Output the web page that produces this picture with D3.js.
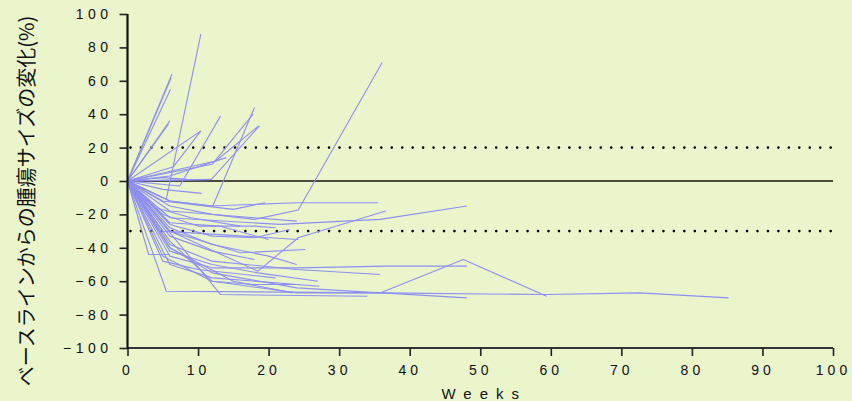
<!DOCTYPE html>
<html>
<head>
<meta charset="utf-8">
<script src="https://cdn.jsdelivr.net/npm/d3@7"></script>
<style>
  html, body { margin: 0; padding: 0; background: #eaf5cb; }
  svg { display: block; }
</style>
</head>
<body>
<svg id="chart" width="852" height="401"></svg>
<script>
// Per-patient assessment times (weeks) and percent change from baseline tumour size
const patientWeeks = [
  [0, 6.3], [0, 6.2], [0, 6.1], [0, 6.0], [0, 5.8],
  [0, 5.5, 10.4], [0, 6.5, 10.4], [0, 10.4], [0, 7.4, 13.2],
  [0, 6, 12.1, 18], [0, 11.9, 18.7], [0, 12, 17.8], [0, 12.5, 18.6],
  [0, 11.9], [0, 5, 10.5], [0, 5, 8.5], [0, 6, 14],
  [0, 6, 12, 24, 35.5],
  [0, 6, 12, 18, 24.2, 36.1],
  [0, 6, 21.6, 35.8, 48.1],
  [0, 6, 18.5, 24.2, 36.6],
  [0, 5.5, 36, 59.4, 72.6, 85.2],
  [0, 6, 12, 24, 35.8, 47.6, 59.4],
  [0, 6, 12, 24, 36.7, 48.1],
  [0, 6, 12, 24, 35.8],
  [0, 6, 12, 27.2],
  [0, 13.2, 34],
  [0, 6, 15, 23.4],
  [0, 6, 12, 24, 36, 48.1],
  [0, 3, 6],
  [0, 5, 24.2],
  [0, 6, 16, 25.2],
  [0, 5, 15, 19.5],
  [0, 6, 18, 24],
  [0, 6, 13, 20],
  [0, 6, 12, 18.5, 27],
  [0, 5, 12, 18, 24.5],
  [0, 5, 10, 21],
  [0, 6, 12, 20, 24],
  [0, 6, 12, 18, 23],
  [0, 5, 10, 18, 21],
  [0, 6, 12, 18],
  [0, 4, 9, 16]
];
const patientChange = [
  [0, 64], [0, 62], [0, 55], [0, 36], [0, 34],
  [0, -11, 88], [0, 8.5, 30], [0, 30], [0, -3, 39],
  [0, -12, -15, 44], [0, 1, 33], [0, 10, 40], [0, 12, 33],
  [0, 1], [0, -5, -7.4], [0, 2, 1], [0, 3, 14],
  [0, -12, -15, -13, -13],
  [0, -15, -20, -23, -17.4, 71],
  [0, -22, -26, -23, -15],
  [0, -30, -54, -34, -18],
  [0, -66, -67, -68, -67, -70],
  [0, -40, -55, -64, -67, -47, -69],
  [0, -45, -52, -52, -51, -51],
  [0, -38, -48, -53, -56],
  [0, -50, -58, -63],
  [0, -68, -69],
  [0, -40, -60, -67],
  [0, -36, -60, -67, -67, -70],
  [0, -44, -44],
  [0, -30, -35],
  [0, -30, -43, -41],
  [0, -12, -17, -13],
  [0, -18, -22, -24],
  [0, -25, -27, -35],
  [0, -42, -50, -55, -60],
  [0, -45, -60, -62, -62],
  [0, -48, -53, -58],
  [0, -28, -38, -45, -50],
  [0, -26, -33, -34, -29],
  [0, -20, -27, -27, -28],
  [0, -33, -42, -47],
  [0, -16, -22, -27]
];
const xTickValues = d3.range(0, 101, 10);
const yTickValues = d3.range(-100, 101, 20);
const referenceLevels = [20, -30];
const xTitle = "Weeks";
const yTitle = "ベースラインからの腫瘍サイズの変化(%)";

const svg = d3.select("#chart");
const plotLeft = 127.5, plotRight = 833, plotTop = 14, plotBottom = 348;

const x = d3.scaleLinear().domain([0, 100]).range([plotLeft, plotRight]);
const y = d3.scaleLinear().domain([-100, 100]).range([plotBottom, plotTop]);

svg.append("rect").attr("width", 852).attr("height", 401).attr("fill", "#eaf5cb");

// dotted threshold lines
svg.selectAll("line.ref").data(referenceLevels).join("line")
  .attr("class", "ref")
  .attr("x1", x(0) + 3).attr("x2", plotRight)
  .attr("y1", d => y(d)).attr("y2", d => y(d))
  .attr("stroke", "#000").attr("stroke-width", 2.6)
  .attr("stroke-linecap", "round")
  .attr("stroke-dasharray", "0,10.45");

// baseline at zero change
svg.append("line")
  .attr("x1", x(0)).attr("x2", plotRight)
  .attr("y1", y(0)).attr("y2", y(0))
  .attr("stroke", "#4a4a40").attr("stroke-width", 2);

// one polyline per patient
const line = d3.line().x(d => x(d[0])).y(d => y(d[1]));
const series = patientWeeks.map((w, i) => w.map((wk, j) => [wk, patientChange[i][j]]));
svg.append("g").selectAll("path").data(series).join("path")
  .attr("d", line)
  .attr("fill", "none")
  .attr("stroke", "#8e8ef3")
  .attr("stroke-width", 1.1)
  .attr("stroke-linejoin", "round");

const tickFont = "'Liberation Sans', Arial, sans-serif";
const ls = 4;

// x axis
const xAxis = svg.append("g").attr("transform", `translate(0,${plotBottom})`)
  .call(d3.axisBottom(x).tickValues(xTickValues).tickSize(8).tickPadding(9).tickFormat(d3.format("d")));
xAxis.select(".domain").attr("stroke", "#333").attr("stroke-width", 2).attr("d", `M${plotLeft},0H${plotRight}`);
xAxis.selectAll(".tick line").attr("stroke", "#222").attr("stroke-width", 1.6);
xAxis.selectAll(".tick text")
  .attr("font-family", tickFont).attr("font-size", 14).attr("fill", "#111")
  .style("letter-spacing", ls + "px");

// y axis
const yAxis = svg.append("g").attr("transform", `translate(${plotLeft},0)`)
  .call(d3.axisLeft(y).tickValues(yTickValues).tickSize(8).tickPadding(10).tickFormat(d3.format("d")));
yAxis.select(".domain").attr("stroke", "#111").attr("stroke-width", 2.2).attr("d", `M0,${plotTop}V${plotBottom + 1}`);
yAxis.selectAll(".tick line").attr("stroke", "#222").attr("stroke-width", 1.6);
yAxis.selectAll(".tick text")
  .attr("font-family", tickFont).attr("font-size", 14).attr("fill", "#111")
  .style("letter-spacing", (ls + 0.5) + "px").attr("dx", ls - 1);

// axis titles
svg.append("text")
  .attr("x", (plotLeft + plotRight) / 2 + 4).attr("y", 399)
  .attr("text-anchor", "middle")
  .attr("font-family", tickFont).attr("font-size", 15)
  .style("letter-spacing", "8px")
  .attr("fill", "#111").text(xTitle);

svg.append("text")
  .attr("transform", "translate(34,201) rotate(-90)")
  .attr("text-anchor", "middle")
  .attr("font-family", "'Noto Sans CJK JP', sans-serif").attr("font-size", 20)
  .attr("fill", "#111").text(yTitle);
</script>
</body>
</html>
